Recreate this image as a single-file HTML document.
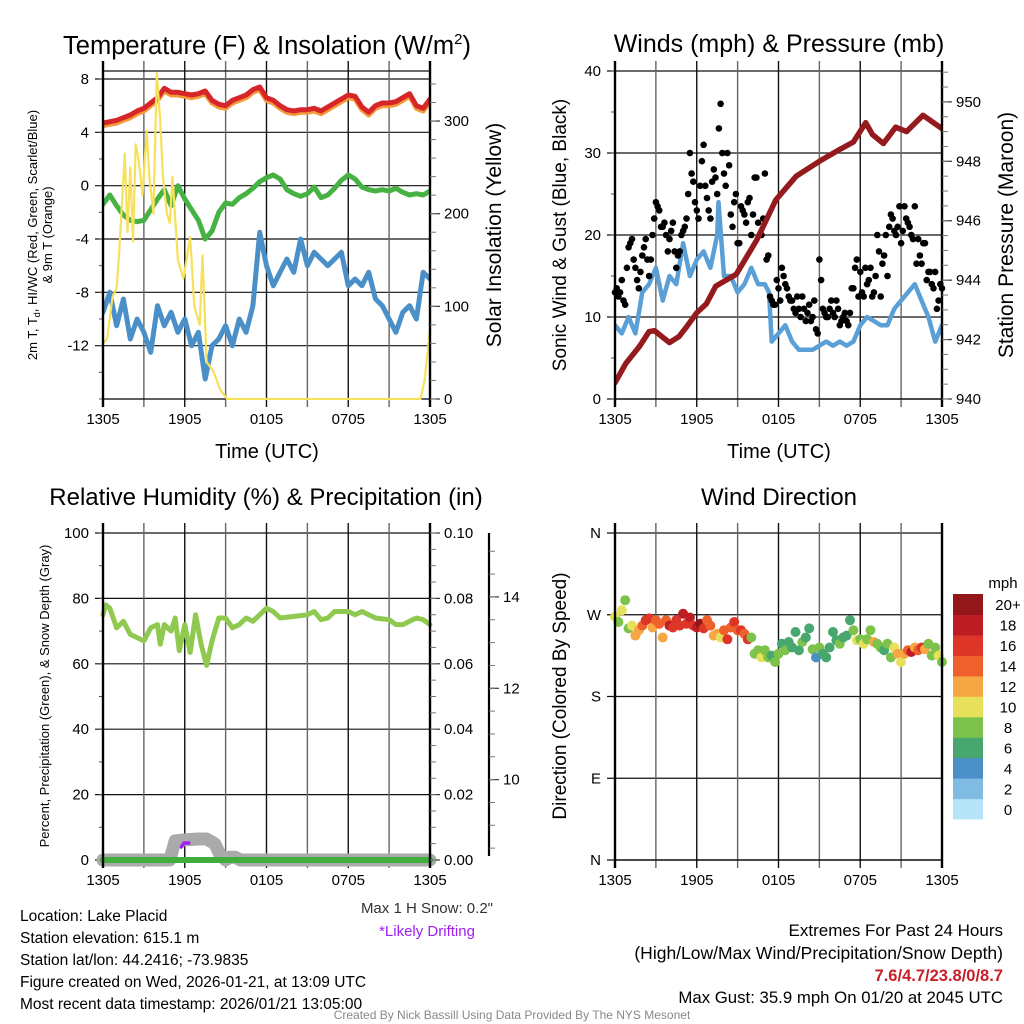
<!DOCTYPE html>
<html><head><meta charset="utf-8"><style>
html,body{margin:0;padding:0;background:#fff}
svg{display:block;font-family:"Liberation Sans",Arial,sans-serif}
</style></head><body>
<svg id="chart" width="1024" height="1024" viewBox="0 0 1024 1024">
<g id="bg"></g>
<g id="marks"></g>
<g id="fg"></g>
<g id="texts">
<text x="267" y="54" font-size="25.5" text-anchor="middle">Temperature (F) &amp; Insolation (W/m<tspan font-size="15" dy="-10">2</tspan><tspan dy="10">)</tspan></text>
<text x="779" y="52" font-size="25" text-anchor="middle">Winds (mph) &amp; Pressure (mb)</text>
<text x="266" y="505" font-size="24" text-anchor="middle">Relative Humidity (%) &amp; Precipitation (in)</text>
<text x="779" y="505" font-size="24" text-anchor="middle">Wind Direction</text>
<text x="267" y="458" font-size="20" text-anchor="middle">Time (UTC)</text>
<text x="779" y="458" font-size="20" text-anchor="middle">Time (UTC)</text>
<text transform="translate(37,235) rotate(-90)" font-size="13" text-anchor="middle">2m T, T<tspan font-size="9" dy="3">d</tspan><tspan dy="-3">, HI/WC (Red, Green, Scarlet/Blue)</tspan></text>
<text transform="translate(52,235) rotate(-90)" font-size="13" text-anchor="middle">&amp; 9m T (Orange)</text>
<text transform="translate(501,235) rotate(-90)" font-size="21" text-anchor="middle">Solar Insolation (Yellow)</text>
<text transform="translate(566,235) rotate(-90)" font-size="19" text-anchor="middle">Sonic Wind &amp; Gust (Blue, Black)</text>
<text transform="translate(1013,235) rotate(-90)" font-size="21" text-anchor="middle">Station Pressure (Maroon)</text>
<text transform="translate(49,696) rotate(-90)" font-size="13" text-anchor="middle">Percent, Precipitation (Green), &amp; Snow Depth (Gray)</text>
<text transform="translate(566,696) rotate(-90)" font-size="19" text-anchor="middle">Direction (Colored By Speed)</text>
<text x="1003" y="588" font-size="15" text-anchor="middle">mph</text>
<g font-size="15.5">
<text x="20" y="921">Location: Lake Placid</text>
<text x="20" y="943">Station elevation: 615.1 m</text>
<text x="20" y="965">Station lat/lon: 44.2416; -73.9835</text>
<text x="20" y="987">Figure created on Wed, 2026-01-21, at 13:09 UTC</text>
<text x="20" y="1009">Most recent data timestamp: 2026/01/21 13:05:00</text>
</g>
<text x="493" y="913" font-size="15" text-anchor="end" fill="#333">Max 1 H Snow: 0.2"</text>
<text x="427" y="936" font-size="15" text-anchor="middle" fill="#a020f0">*Likely Drifting</text>
<text x="1003" y="936" font-size="17" text-anchor="end">Extremes For Past 24 Hours</text>
<text x="1003" y="959" font-size="17.5" text-anchor="end">(High/Low/Max Wind/Precipitation/Snow Depth)</text>
<text x="1003" y="981" font-size="16.5" font-weight="bold" text-anchor="end" fill="#c8202a">7.6/4.7/23.8/0/8.7</text>
<text x="1003" y="1003" font-size="16.8" text-anchor="end">Max Gust: 35.9 mph On 01/20 at 2045 UTC</text>
<text x="512" y="1019" font-size="12" text-anchor="middle" fill="#888">Created By Nick Bassill Using Data Provided By The NYS Mesonet</text>
</g>
</svg>
<script>
// ---------- data ----------
const hoursHalf = [0,0.5,1,1.5,2,2.5,3,3.5,4,4.5,5,5.5,6,6.5,7,7.5,8,8.5,9,9.5,10,10.5,11,11.5,12,12.5,13,13.5,14,14.5,15,15.5,16,16.5,17,17.5,18,18.5,19,19.5,20,20.5,21,21.5,22,22.5,23,23.5,24];
const tempRed = [4.7,4.8,4.9,5.1,5.3,5.6,5.8,6.2,6.6,7.3,7.0,7.0,6.9,6.8,6.9,7.1,6.4,6.1,6.0,6.4,6.6,6.8,7.2,7.4,6.6,6.4,6.0,5.7,5.6,5.7,5.7,5.8,5.6,5.9,6.2,6.5,6.8,6.7,5.9,5.5,6.0,6.2,6.2,6.3,6.6,6.9,6.0,5.8,6.5];
const temp9m = [4.5,4.6,4.7,4.9,5.1,5.4,5.6,6.0,6.4,7.1,6.8,6.8,6.7,6.6,6.7,6.9,6.2,5.9,5.8,6.2,6.4,6.6,7.0,7.2,6.4,6.2,5.8,5.5,5.4,5.5,5.5,5.6,5.4,5.7,6.0,6.3,6.6,6.5,5.7,5.3,5.8,6.0,6.0,6.1,6.4,6.7,5.8,5.6,6.3];
const dewPoint = [-1.4,-0.7,-1.5,-2.2,-2.6,-2.7,-2.6,-1.8,-1.0,-0.3,-1.5,0.0,-1.0,-1.8,-2.6,-4.0,-3.4,-2.0,-1.3,-1.4,-0.9,-0.6,-0.2,0.3,0.6,0.8,0.5,-0.3,-0.6,-0.8,-0.6,-0.1,-0.9,-0.7,-0.2,0.4,0.8,0.5,-0.1,-0.3,-0.4,-0.3,-0.4,-0.2,-0.5,-0.7,-0.6,-0.7,-0.4];
const windChill = [-9.5,-8.0,-10.5,-8.5,-11.5,-10.0,-11.0,-12.5,-9.0,-10.5,-9.5,-11.0,-10.0,-12.0,-11.0,-14.5,-12.0,-11.5,-10.5,-12.0,-10.0,-11.0,-9.0,-3.5,-6.0,-7.5,-6.5,-5.5,-6.5,-4.0,-6.0,-5.0,-5.5,-6.0,-5.5,-5.0,-7.5,-7.0,-7.5,-6.5,-8.5,-9.0,-10.0,-11.0,-9.5,-9.0,-10.0,-6.5,-7.0];
const solarHours = [0,0.3,0.7,1.0,1.2,1.6,1.8,2.0,2.2,2.4,2.6,2.9,3.2,3.4,3.7,3.95,4.2,4.4,4.7,4.9,5.1,5.5,5.9,6.4,6.7,7.1,7.3,7.6,8.1,8.6,9.1,23.3,23.6,24];
const solarValues = [60,65,110,120,160,265,180,250,170,275,260,220,290,240,200,352,300,240,200,190,240,150,130,175,100,80,155,40,30,10,0,0,20,75];
const pressHours = [0,0.8,1.8,2.5,2.9,4.0,4.7,5.2,6.0,6.7,7.4,8.9,10.4,11.8,13.3,15.0,16.5,17.5,18.4,18.9,19.7,20.6,21.4,22.6,24];
const pressValues = [940.55,941.2,941.77,942.27,942.3,941.9,942.1,942.4,942.9,943.2,943.8,944.2,945.35,946.7,947.5,948.0,948.4,948.65,949.3,948.9,948.6,949.15,949.0,949.55,949.1];
const sonicHours = [0,0.5,1,1.5,2,2.5,3,3.5,4,4.5,5,5.5,6,6.5,7,7.5,7.6,8,8.5,9,9.5,10,10.5,11,11.3,11.5,12,12.5,13,13.5,14,14.5,15,15.5,16,16.5,17,17.5,18,18.5,19,19.5,20,20.5,21,21.5,22,22.5,23,23.5,24];
const sonicValues = [9,8,10,8,13,14,16,12,15,14,19,15,17,18,16,20,24,15,15,13,14,16,14,14,13,7,8,9,7,6,6,6,6.5,7,6.5,7,6.5,7,9,10,9.5,9,9,11,12,13,14,12,10,7,9];
const gustValues = [13,12.5,14.5,11.5,18.5,19.5,16,13.5,17.5,19.5,15,20,24,23,21,20,19.5,21.5,16,18,20.5,22,30,26.5,23,26,31,24.5,22,28,25,36,27.5,30,22.5,24,19,23.5,22.5,24,20,27,21.5,20,27.5,17.5,12,11.5,13.5,16,14,12.5,12,10.5,11,12.5,9.5,11.5,10,8.5,17,11,10,11,10.5,12,9,10,9.5,10.5,13.5,17,15.5,12.5,14,16,13,20,12.5,17.5,15,22.5,20.5,21,19,23.5,21.5,20,23.5,19.5,16.5,19,15.5,14,15.5,12,13.5];
const gustValuesMid = [13.5,13,12,16,19,17,14.5,15.5,18.5,17,17,22,23.5,21,21.5,18,20.5,18,17.5,20,21,25,27.5,24,22,29,26,23,26.5,27,33,30,26,28.5,21,25,19,23,21.5,24.5,22.5,27,20,22,17,12.5,11.5,14.5,12,15,13.5,12,11,12.5,10,11,10.5,9.5,12,8,14.5,10.5,10,12,10,11,9.5,10.5,9,13.5,16,12.5,13,16,14.5,12.5,15,18,16.5,20,21,22,20,23.5,20.5,22,21,19.5,16.5,17.5,19,14.5,15.5,13.5,11,14];
const rhHours = [0,0.2,0.5,1,1.5,2,2.5,3,3.5,4,4.2,4.5,5,5.3,5.6,6,6.4,6.8,7.2,7.6,8,8.5,9,9.5,10,10.5,11,11.5,12,12.5,13,14,15,15.5,16,16.5,17,18,18.5,19,19.5,20,21,21.5,22,22.5,23,23.5,24];
const rhValues = [75,78,77,71,73,69,68,67,71,72,66,72,70,74,64,72,63.5,75,66,59.5,67,74,74,71,72,74,73,75,77,76,74,74.5,75,76,73.5,74,76,76,75,76,75,74,73.5,72,72,73,74,73.5,72];
const precipHours = [0,24];
const precipValues = [0,0];
const snowHours = [0,4.9,5.3,6.0,7.0,7.6,8.2,8.6,9.0,9.3,9.7,10.1,10.4,24];
const snowValues = [8.24,8.24,8.66,8.68,8.7,8.7,8.6,8.35,8.24,8.3,8.3,8.24,8.24,8.24];
const dirHours = [0,0.25,0.5,0.75,1,1.25,1.5,1.75,2,2.25,2.5,2.75,3,3.25,3.5,3.75,4,4.25,4.5,4.75,5,5.25,5.5,5.75,6,6.25,6.5,6.75,7,7.25,7.5,7.75,8,8.25,8.5,8.75,9,9.25,9.5,9.75,10,10.25,10.5,10.75,11,11.25,11.5,11.75,12,12.25,12.5,12.75,13,13.25,13.5,13.75,14,14.25,14.5,14.75,15,15.25,15.5,15.75,16,16.25,16.5,16.75,17,17.25,17.5,17.75,18,18.25,18.5,18.75,19,19.25,19.5,19.75,20,20.25,20.5,20.75,21,21.25,21.5,21.75,22,22.25,22.5,22.75,23,23.25,23.5,23.75,24];
const dirValues = [268,262,275,286,255,258,247,253,258,264,266,256,264,260,245,264,258,256,264,258,271,260,267,258,256,260,255,264,258,247,249,245,253,243,256,262,253,253,249,243,245,227,231,223,231,223,225,218,227,238,231,240,234,251,231,240,245,255,232,223,234,227,223,234,251,242,238,245,247,264,253,242,243,238,243,253,240,238,234,231,238,223,234,227,218,227,231,229,234,231,234,232,238,225,234,225,218];
const dirSpeeds = [10,8,10,8,8,10,12,13,14,16,16,12,14,15,13,14,18,17,16,17,18,17,19,16,18,20,16,15,14,12,13,11,14,16,14,17,14,16,15,16,8,8,8,10,8,8,7,8,8,6,8,6,7,6,7,8,6,6,8,4,8,6,6,7,6,6,8,6,6,7,8,10,8,10,8,8,12,9,8,7,8,8,10,12,10,12,14,18,12,14,16,13,8,8,8,10,8];
const colorbarLabels = ["0","2","4","6","8","10","12","14","16","18","20+"];
const colorbarColors = ["#b5e3f8","#80bbe4","#4a8fc6","#48a66f","#7dc24b","#e6e05a","#f6a643","#ef612c","#dd3628","#bd1e25","#92161a"];
const xTickLabels = ["1305","1905","0105","0705","1305"];
const tlLeftTicks = [-12,-8,-4,0,4,8];
const tlRightTicks = [0,100,200,300];
const trLeftTicks = [0,10,20,30,40];
const trRightTicks = [940,942,944,946,948,950];
const blLeftTicks = [0,20,40,60,80,100];
const blRightLabels = ["0.00","0.02","0.04","0.06","0.08","0.10"];
const snowTicks = [10,12,14];
const dirTickLabels = ["N","E","S","W","N"];

// ---------- helpers ----------
const NS = "http://www.w3.org/2000/svg";
const bg = document.getElementById('bg'), marks = document.getElementById('marks'), fg = document.getElementById('fg');
function mk(tag, attrs, parent){ const e=document.createElementNS(NS,tag); for(const k in attrs) e.setAttribute(k,attrs[k]); parent.appendChild(e); return e; }
function lin(d0,d1,r0,r1){ return v => r0 + (v-d0)/(d1-d0)*(r1-r0); }

const P = {
  tl:{x0:103,x1:430,top:71,bot:399},
  tr:{x0:615,x1:942,top:71,bot:399},
  bl:{x0:103,x1:430,top:533,bot:860},
  br:{x0:615,x1:942,top:533,bot:860}
};
for(const k in P){ P[k].x = lin(0,24,P[k].x0,P[k].x1); }

function clip(id,p){
  let defs = document.getElementById('defs') || mk('defs',{id:'defs'},document.getElementById('chart'));
  const c = mk('clipPath',{id:id},defs);
  mk('rect',{x:p.x0,y:p.top-1,width:p.x1-p.x0,height:p.bot-p.top+2},c);
}

function panelFrame(name,p,ticks,yS,minorStep,labels,opts){
  ticks.forEach((t,i)=>{
    const y=yS(t);
    const g=mk('line',{x1:p.x0-8,x2:p.x1,y1:y,y2:y,stroke:'#111','stroke-width':1.2},bg);
    
    
    const tx=mk('text',{x:p.x0-14,y:y+5,'font-size':15,'text-anchor':'end'},fg);
    tx.textContent = labels ? labels[i] : String(t);
    
    
  });
  if(minorStep){
    const d0=opts.d0,d1=opts.d1;
    for(let v=Math.ceil(d0/minorStep)*minorStep; v<=d1+1e-9; v+=minorStep){
      const y=yS(v); if(y<p.top-0.5||y>p.bot+0.5) continue;
      mk('line',{x1:p.x0-4,x2:p.x0,y1:y,y2:y,stroke:'#555','stroke-width':1},bg);
    }
  }
  for(let h=3;h<24;h+=3){
    const x=p.x(h);
    const g=mk('line',{x1:x,x2:x,y1:p.top-10,y2:p.bot+8,stroke:(h%6===0)?'#111':'#666','stroke-width':1.4},bg);
    
    
  }
  mk('line',{x1:p.x0,x2:p.x0,y1:p.top-10,y2:p.bot+8,stroke:'#000','stroke-width':2.4},fg);
  mk('line',{x1:p.x1,x2:p.x1,y1:p.top-10,y2:p.bot+8,stroke:'#000','stroke-width':2.4},fg);
  mk('line',{x1:p.x0,x2:p.x1,y1:p.bot,y2:p.bot,stroke:'#000','stroke-width':1.2},bg);
  xTickLabels.forEach((l,i)=>{
    const t=mk('text',{x:p.x(i*6),y:p.bot+25,'font-size':15,'text-anchor':'middle'},fg);
    t.textContent=l;
    
    
  });
}
function rightAxis(name,p,ticks,yS,labels,minorStep,d0,d1,ax){
  const x=ax||p.x1;
  ticks.forEach((t,i)=>{
    const y=yS(t);
    mk('line',{x1:x,x2:x+10,y1:y,y2:y,stroke:'#333','stroke-width':1.2},fg);
    const tx=mk('text',{x:x+14,y:y+5,'font-size':15},fg);
    tx.textContent = labels?labels[i]:String(t);
    
    
  });
  if(minorStep){
    for(let v=Math.ceil(d0/minorStep)*minorStep; v<=d1+1e-9; v+=minorStep){
      const y=yS(v); if(y<p.top-0.5||y>p.bot+0.5) continue;
      mk('line',{x1:x,x2:x+6,y1:y,y2:y,stroke:'#777','stroke-width':1},fg);
    }
  }
}
function path(name,p,xs,ys,yS,color,w,clipId){
  let d='';
  xs.forEach((h,i)=>{ d += (i?'L':'M')+p.x(h).toFixed(1)+','+yS(ys[i]).toFixed(1); });
  const e=mk('path',{d:d,fill:'none',stroke:color,'stroke-width':w,'stroke-linejoin':'round','stroke-linecap':'round'},marks);
  if(clipId) e.setAttribute('clip-path','url(#'+clipId+')');
  
  
  return e;
}

// ---------- top-left ----------
const tlY = lin(-16,8.6,P.tl.bot,P.tl.top);
const tlR = lin(0,354,P.tl.bot,P.tl.top);
panelFrame('tl',P.tl,tlLeftTicks,tlY,2,null,{d0:-16,d1:8.6});
mk('line',{x1:P.tl.x0,x2:P.tl.x1,y1:P.tl.top,y2:P.tl.top,stroke:'#111','stroke-width':1.2},bg);
rightAxis('tl',P.tl,tlRightTicks,tlR,null,20,0,354);
clip('clipTL',P.tl);
path('temp-9m-line',P.tl,hoursHalf,temp9m,tlY,'#f39a3a',5,'clipTL');
path('temp-2m-line',P.tl,hoursHalf,tempRed,tlY,'#d7262a',5,'clipTL');
path('dewpoint-line',P.tl,hoursHalf,dewPoint,tlY,'#46b243',5,'clipTL');
path('windchill-line',P.tl,hoursHalf,windChill,tlY,'#4a8fc8',5,'clipTL');
path('solar-line',P.tl,solarHours,solarValues,tlR,'#f7e15b',2.2,'clipTL');

// ---------- top-right ----------
const trY = lin(0,40,P.tr.bot,P.tr.top);
const trR = lin(940,951.04,P.tr.bot,P.tr.top);
panelFrame('tr',P.tr,trLeftTicks,trY,5,null,{d0:0,d1:40});
rightAxis('tr',P.tr,trRightTicks,trR,null,0.5,940,951);
clip('clipTR',P.tr);
path('sonic-wind-line',P.tr,sonicHours,sonicValues,trY,'#5a9fd6',4.5,'clipTR');
gustValues.forEach((g,i)=>{
  const c=mk('circle',{cx:P.tr.x(i*0.25).toFixed(1),cy:trY(g).toFixed(1),r:3.3,fill:'#000'},marks);
  
  
});
gustValuesMid.forEach((g,i)=>{
  const c=mk('circle',{cx:P.tr.x(0.125+i*0.25).toFixed(1),cy:trY(g).toFixed(1),r:3.3,fill:'#000'},marks);
  
  
});
path('pressure-line',P.tr,pressHours,pressValues,trR,'#951a1d',5.5,'clipTR');

// ---------- bottom-left ----------
const blY = lin(0,100,P.bl.bot,P.bl.top);
const blR = lin(0,0.1,P.bl.bot,P.bl.top);
const snowY = lin(8.24,15.4,P.bl.bot,P.bl.top);
panelFrame('bl',P.bl,blLeftTicks,blY,10,null,{d0:0,d1:100});
rightAxis('bl',P.bl,[0,0.02,0.04,0.06,0.08,0.1],blR,blRightLabels,0.005,0,0.1);
mk('line',{x1:489,x2:489,y1:P.bl.top,y2:P.bl.bot-4,stroke:'#000','stroke-width':2.2},fg);
rightAxis('snow',P.bl,snowTicks,snowY,null,0.5,8.24,15.4,489);
path('snow-depth-line',P.bl,snowHours,snowValues,snowY,'#aaaaaa',13,null);
path('precip-line',P.bl,precipHours,precipValues,blR,'#3fae3d',6,null);
const drift=mk('path',{d:'M'+P.bl.x(5.75)+','+(P.bl.bot-13)+'L'+P.bl.x(5.95)+','+(P.bl.bot-17)+'L'+P.bl.x(6.3)+','+(P.bl.bot-17),fill:'none',stroke:'#a020f0','stroke-width':3.5,'stroke-linecap':'round'},marks);


path('rh-line',P.bl,rhHours,rhValues,blY,'#8fc950',5,null);

// ---------- bottom-right ----------
const brY = lin(0,360,P.br.bot,P.br.top);
panelFrame('br',P.br,[0,90,180,270,360],brY,0,dirTickLabels,{});
dirValues.forEach((d,i)=>{
  const bin=Math.min(10,Math.floor(dirSpeeds[i]/2));
  const c=mk('circle',{cx:P.br.x(dirHours[i]).toFixed(1),cy:brY(d).toFixed(1),r:5,fill:colorbarColors[bin]},marks);
  
  
});
const cbTop=594,cbBot=819,cbH=(cbBot-cbTop)/colorbarLabels.length;
colorbarLabels.forEach((l,i)=>{
  const y=cbBot-(i+1)*cbH;
  const r=mk('rect',{x:953,y:y.toFixed(1),width:30,height:(cbH+0.5).toFixed(1),fill:colorbarColors[i]},fg);
  
  
  const t=mk('text',{x:1008,y:(y+cbH/2+6).toFixed(1),'font-size':15,'text-anchor':'middle'},fg);
  t.textContent=l;
  
  
});
</script>
</body></html>
